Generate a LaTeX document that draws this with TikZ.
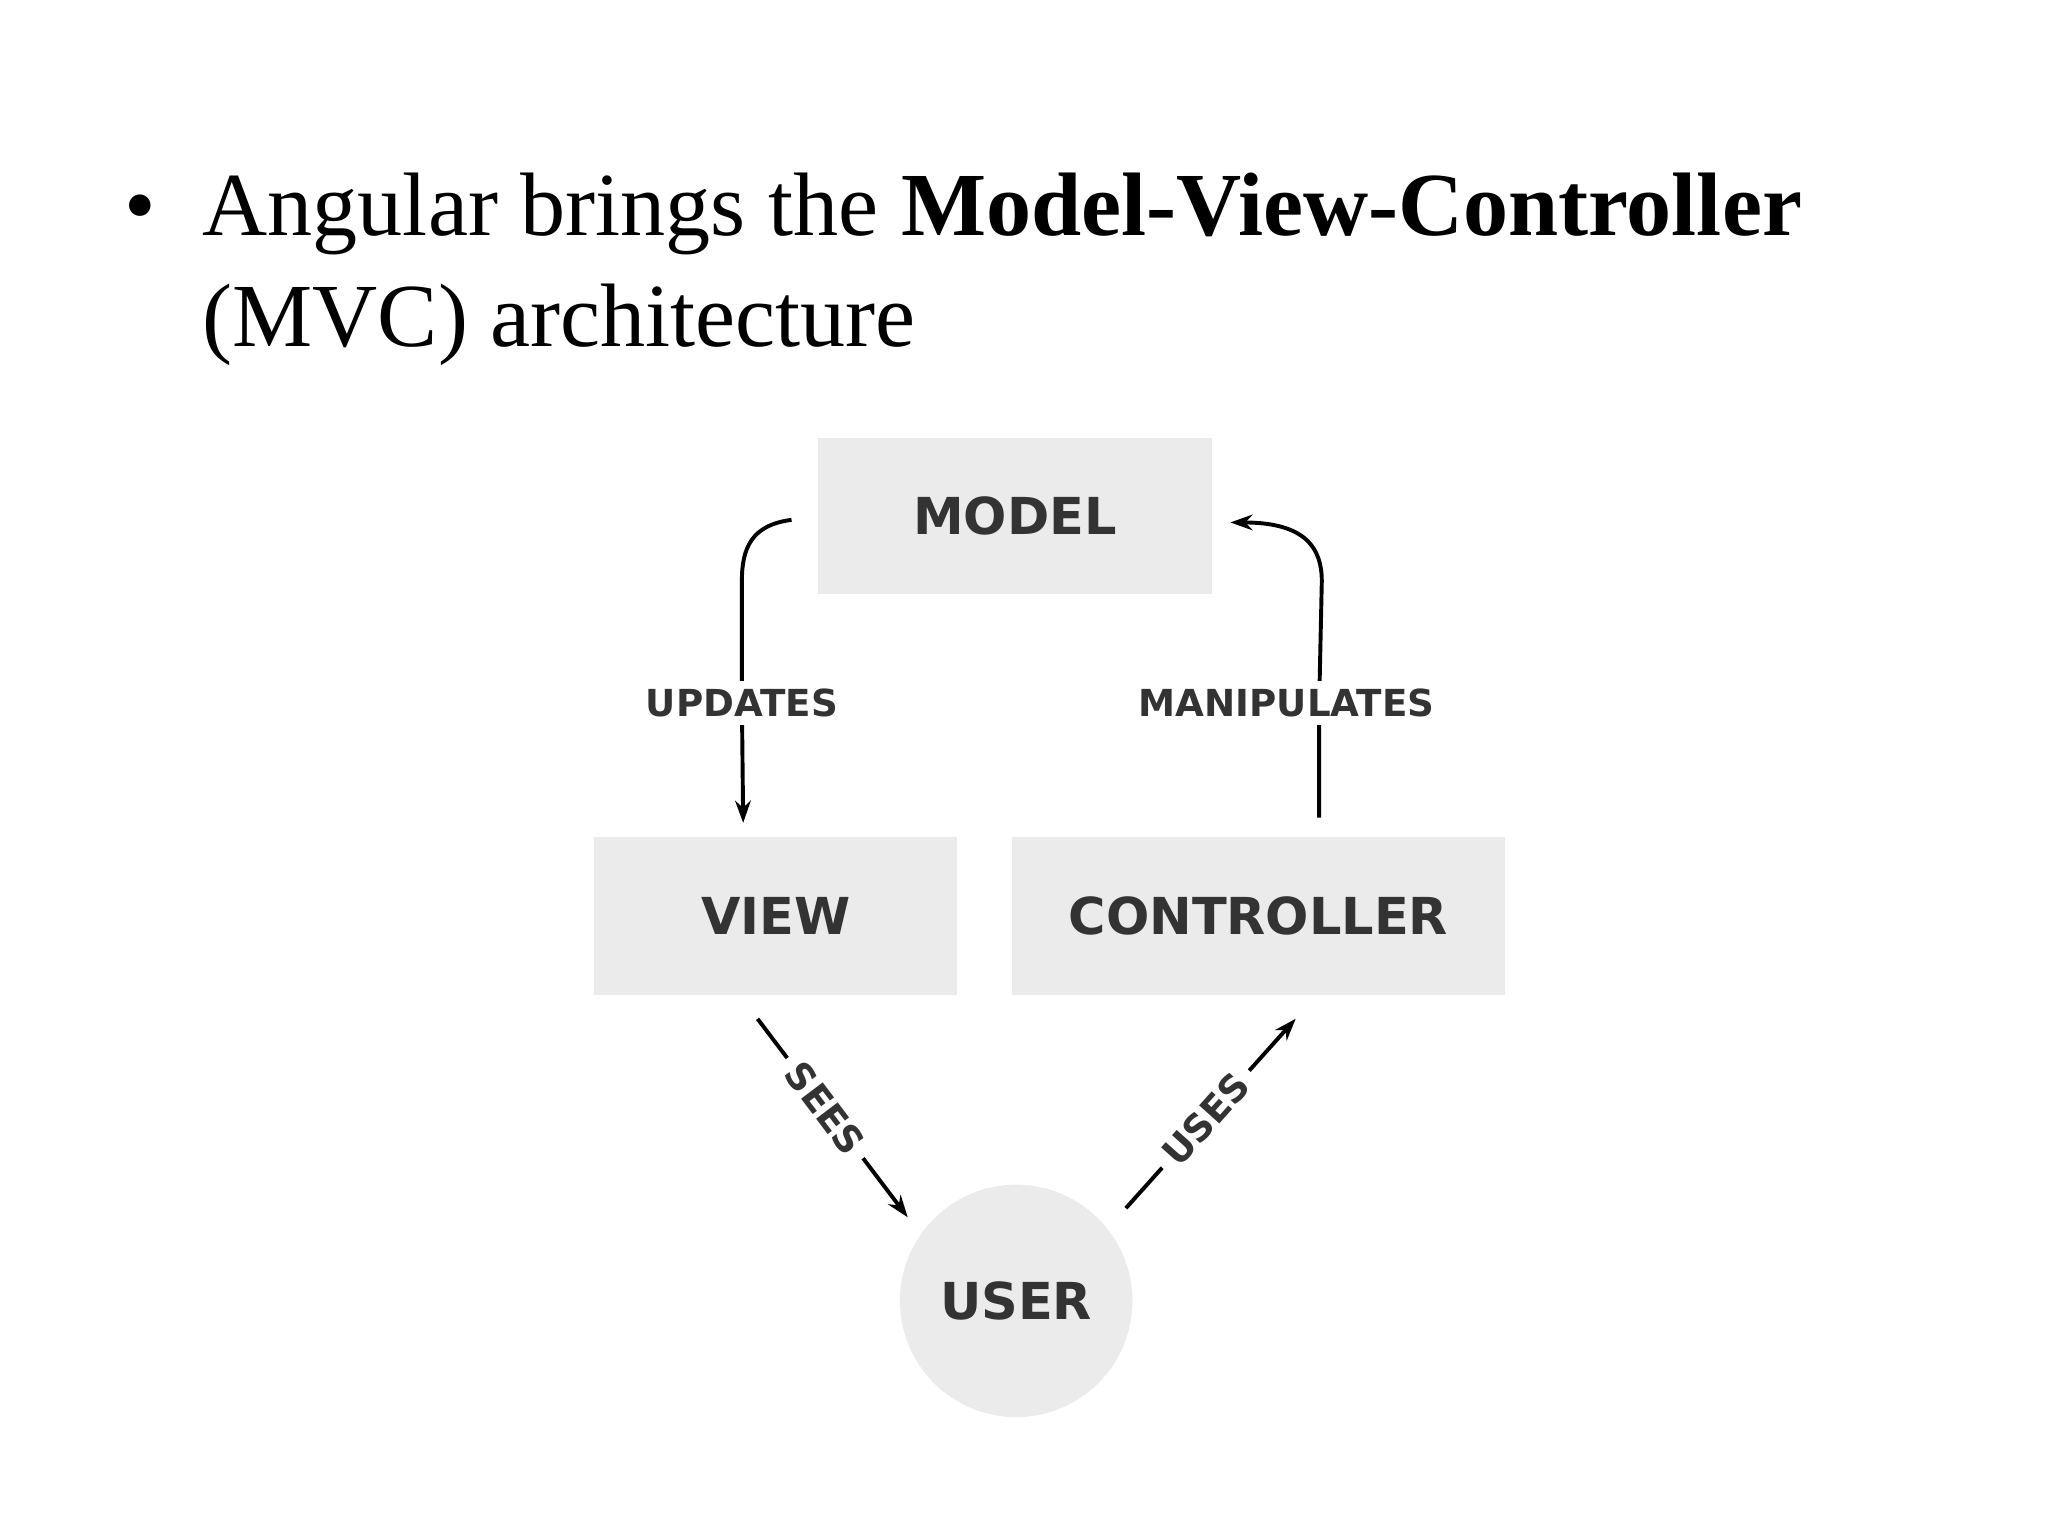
\documentclass[tikz,border=0pt]{standalone}
\usepackage{fontspec}
\setmainfont{Liberation Serif}
\newfontfamily\lbl{DejaVu Sans}
\usetikzlibrary{arrows.meta}
\begin{document}
\begin{tikzpicture}[x=1pt,y=-1pt,
  box/.style={fill=boxgray,draw=none,inner sep=0pt},
  lab/.style={font=\lbl\bfseries\fontsize{39}{39}\selectfont,text=labgray},
  elab/.style={font=\lbl\bfseries\fontsize{28.5}{28.5}\selectfont,text=labgray,fill=white,inner sep=6pt},
  conn/.style={line width=3pt,-{Stealth[length=17pt,width=12pt]}},
  ttl/.style={anchor=base west,inner sep=0pt,font=\fontsize{69}{85}\selectfont}]
\definecolor{boxgray}{HTML}{EBEBEB}
\definecolor{labgray}{HTML}{333333}
\useasboundingbox (0,0) rectangle (1568,1176);
\node[ttl] (bul) at (95,180) {\textbullet};
\node[ttl] (t1) at (155,180) {Angular brings the \textbf{Model-View-Controller}};
\node[ttl] (t2) at (155,265) {(MVC) architecture};
\node[box,minimum width=302,minimum height=120] (model) at (777,395) {};
\node[lab] at (model) {MODEL};
\node[box,minimum width=278,minimum height=121] (view) at (594,701.5) {};
\node[lab] at (view) {VIEW};
\node[box,minimum width=377,minimum height=121] (ctrl) at (963.5,701.5) {};
\node[lab] at (ctrl) {CONTROLLER};
\node[circle,fill=boxgray,minimum size=178,inner sep=0pt] (user) at (778,996) {};
\node[lab] at (user) {USER};
\coordinate (u1) at (606,398); \coordinate (u2) at (569,630);
\draw[conn] (u1) .. controls (575,402) and (568,420) .. (568,445) -- (568,538) node[elab,pos=1] {UPDATES} -- (u2);
\coordinate (m1) at (1010,626); \coordinate (m2) at (942,400);
\draw[conn] (m1) -- (1010,538) node[elab,pos=1,xshift=-25] {MANIPULATES} -- (1012,445) .. controls (1012,420) and (1000,400) .. (m2);
\coordinate (s1) at (580,780); \coordinate (s2) at (695,932);
\draw[conn] (s1) -- (s2) node[elab,pos=0.45,sloped,inner sep=8pt] {SEES};
\coordinate (v1) at (862,925); \coordinate (v2) at (992,780);
\draw[conn] (v1) -- (v2) node[elab,pos=0.47,sloped,inner sep=8pt] {USES};
\end{tikzpicture}
\end{document}
